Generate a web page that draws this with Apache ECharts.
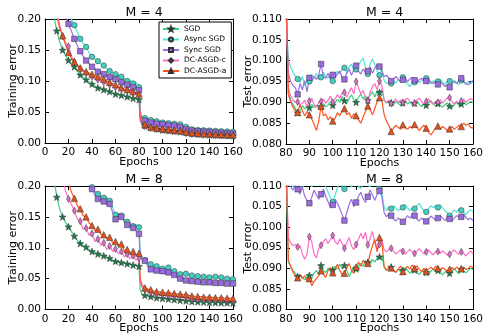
<!DOCTYPE html>
<html>
<head>
<meta charset="utf-8">
<script src="https://cdn.jsdelivr.net/npm/echarts@6/dist/echarts.min.js"></script>
<style>
  html, body { margin: 0; padding: 0; background: #fff; }
  #chart { width: 486px; height: 335px; }
</style>
</head>
<body>
<div id="chart"></div>
<script>
const names = ['SGD', 'Async SGD', 'Sync SGD', 'DC-ASGD-c', 'DC-ASGD-a']
const titles = ['M = 4', 'M = 4', 'M = 8', 'M = 8']

const trainEpochs = [
  2.5, 5, 7.5, 10, 12.5, 15, 17.5, 20, 22.5, 25,
  27.5, 30, 32.5, 35, 37.5, 40, 42.5, 45, 47.5, 50,
  52.5, 55, 57.5, 60, 62.5, 65, 67.5, 70, 72.5, 75,
  77.5, 80, 81, 82.5, 85, 87.5, 90, 92.5, 95, 97.5,
  100, 102.5, 105, 107.5, 110, 112.5, 115, 117.5, 120, 122.5,
  125, 127.5, 130, 132.5, 135, 137.5, 140, 142.5, 145, 147.5,
  150, 152.5, 155, 157.5, 160
]
const testEpochs = [
  80, 81, 82, 83, 84, 85, 86, 87, 88, 89,
  90, 91, 92, 93, 94, 95, 96, 97, 98, 99,
  100, 101, 102, 103, 104, 105, 106, 107, 108, 109,
  110, 111, 112, 113, 114, 115, 116, 117, 118, 119,
  120, 121, 122, 123, 124, 125, 126, 127, 128, 129,
  130, 131, 132, 133, 134, 135, 136, 137, 138, 139,
  140, 141, 142, 143, 144, 145, 146, 147, 148, 149,
  150, 151, 152, 153, 154, 155, 156, 157, 158, 159,
  160
]

// training error, M = 4
const trainSgd4 = [
  0.320, 0.250, 0.205, 0.181, 0.163, 0.150, 0.141, 0.1335, 0.128, 0.123,
  0.116, 0.110, 0.106, 0.102, 0.098, 0.095, 0.092, 0.089, 0.088, 0.086,
  0.085, 0.083, 0.081, 0.079, 0.078, 0.077, 0.076, 0.0745, 0.073, 0.072,
  0.0715, 0.070, 0.036, 0.030, 0.028, 0.026, 0.025, 0.024, 0.023, 0.022,
  0.021, 0.0205, 0.020, 0.0195, 0.019, 0.0185, 0.018, 0.0175, 0.017, 0.016,
  0.0155, 0.015, 0.0145, 0.014, 0.014, 0.0135, 0.013, 0.013, 0.0128, 0.0125,
  0.0123, 0.012, 0.012, 0.0118, 0.0117
]
const trainAsync4 = [
  0.450, 0.380, 0.330, 0.290, 0.260, 0.240, 0.225, 0.215, 0.200, 0.190,
  0.179, 0.168, 0.161, 0.155, 0.146, 0.139, 0.135, 0.132, 0.128, 0.125,
  0.120, 0.116, 0.114, 0.111, 0.109, 0.107, 0.104, 0.100, 0.101, 0.096,
  0.098, 0.090, 0.052, 0.043, 0.040, 0.038, 0.037, 0.036, 0.035, 0.034,
  0.033, 0.0325, 0.032, 0.031, 0.031, 0.030, 0.030, 0.029, 0.026, 0.023,
  0.022, 0.0215, 0.021, 0.021, 0.0205, 0.020, 0.020, 0.020, 0.0195, 0.019,
  0.019, 0.0188, 0.0185, 0.018, 0.018
]
const trainSync4 = [
  0.420, 0.350, 0.300, 0.265, 0.240, 0.220, 0.205, 0.192, 0.180, 0.168,
  0.157, 0.148, 0.140, 0.133, 0.128, 0.123, 0.119, 0.115, 0.113, 0.111,
  0.108, 0.106, 0.104, 0.103, 0.100, 0.098, 0.096, 0.094, 0.092, 0.090,
  0.088, 0.085, 0.048, 0.040, 0.036, 0.034, 0.033, 0.032, 0.031, 0.0305,
  0.030, 0.029, 0.0285, 0.028, 0.028, 0.027, 0.026, 0.025, 0.022, 0.0205,
  0.020, 0.0195, 0.019, 0.0185, 0.0185, 0.018, 0.018, 0.0175, 0.0172, 0.017,
  0.0165, 0.016, 0.016, 0.0155, 0.015
]
const trainDcc4 = [
  0.380, 0.300, 0.250, 0.215, 0.190, 0.172, 0.162, 0.156, 0.140, 0.131,
  0.125, 0.120, 0.116, 0.113, 0.110, 0.107, 0.104, 0.102, 0.100, 0.098,
  0.096, 0.094, 0.092, 0.090, 0.089, 0.088, 0.086, 0.085, 0.083, 0.081,
  0.079, 0.077, 0.038, 0.030, 0.027, 0.025, 0.024, 0.023, 0.0225, 0.022,
  0.022, 0.021, 0.0205, 0.020, 0.0195, 0.019, 0.019, 0.018, 0.016, 0.015,
  0.0145, 0.014, 0.014, 0.0135, 0.0133, 0.013, 0.0128, 0.0127, 0.0125, 0.0123,
  0.0122, 0.012, 0.012, 0.0118, 0.0118
]
const trainDca4 = [
  0.360, 0.290, 0.240, 0.205, 0.185, 0.173, 0.158, 0.146, 0.137, 0.131,
  0.126, 0.121, 0.117, 0.115, 0.113, 0.111, 0.109, 0.107, 0.105, 0.103,
  0.100, 0.098, 0.096, 0.094, 0.091, 0.089, 0.087, 0.086, 0.085, 0.083,
  0.081, 0.079, 0.040, 0.033, 0.030, 0.027, 0.026, 0.025, 0.024, 0.0235,
  0.023, 0.0225, 0.022, 0.0215, 0.021, 0.0205, 0.020, 0.0195, 0.018, 0.017,
  0.0165, 0.016, 0.016, 0.0155, 0.015, 0.015, 0.015, 0.0145, 0.0143, 0.014,
  0.014, 0.0137, 0.0135, 0.0133, 0.0132
]

// training error, M = 8
const trainSgd8 = [
  0.330, 0.260, 0.215, 0.182, 0.163, 0.150, 0.141, 0.134, 0.126, 0.119,
  0.112, 0.107, 0.104, 0.101, 0.097, 0.094, 0.092, 0.090, 0.088, 0.087,
  0.085, 0.083, 0.080, 0.078, 0.077, 0.076, 0.075, 0.074, 0.073, 0.072,
  0.071, 0.070, 0.032, 0.025, 0.023, 0.022, 0.021, 0.020, 0.019, 0.0185,
  0.018, 0.0175, 0.017, 0.0165, 0.016, 0.0155, 0.015, 0.0148, 0.014, 0.0135,
  0.013, 0.013, 0.0125, 0.012, 0.012, 0.0118, 0.0115, 0.0115, 0.0113, 0.011,
  0.011, 0.011, 0.0108, 0.0107, 0.0105
]
const trainAsync8 = [
  0.600, 0.520, 0.460, 0.410, 0.370, 0.340, 0.310, 0.290, 0.270, 0.255,
  0.240, 0.230, 0.220, 0.212, 0.203, 0.198, 0.192, 0.187, 0.184, 0.181,
  0.182, 0.176, 0.165, 0.1535, 0.150, 0.152, 0.146, 0.142, 0.139, 0.135,
  0.138, 0.133, 0.095, 0.082, 0.080, 0.076, 0.0733, 0.071, 0.070, 0.067,
  0.066, 0.065, 0.068, 0.064, 0.062, 0.058, 0.057, 0.059, 0.058, 0.056,
  0.055, 0.054, 0.054, 0.053, 0.053, 0.052, 0.052, 0.053, 0.053, 0.052,
  0.052, 0.051, 0.050, 0.050, 0.049
]
const trainSync8 = [
  0.580, 0.500, 0.440, 0.400, 0.360, 0.330, 0.300, 0.280, 0.260, 0.245,
  0.232, 0.222, 0.212, 0.205, 0.200, 0.195, 0.185, 0.179, 0.178, 0.175,
  0.170, 0.171, 0.158, 0.146, 0.155, 0.150, 0.142, 0.137, 0.140, 0.132,
  0.128, 0.1225, 0.090, 0.082, 0.079, 0.070, 0.065, 0.066, 0.063, 0.062,
  0.062, 0.058, 0.060, 0.058, 0.056, 0.052, 0.050, 0.051, 0.047, 0.046,
  0.046, 0.045, 0.045, 0.0445, 0.044, 0.044, 0.044, 0.0435, 0.043, 0.043,
  0.043, 0.0425, 0.042, 0.042, 0.042
]
const trainDcc8 = [
  0.500, 0.400, 0.330, 0.280, 0.240, 0.210, 0.192, 0.179, 0.170, 0.160,
  0.146, 0.143, 0.130, 0.132, 0.120, 0.123, 0.110, 0.114, 0.104, 0.108,
  0.097, 0.103, 0.094, 0.098, 0.090, 0.094, 0.085, 0.090, 0.082, 0.087,
  0.080, 0.083, 0.045, 0.036, 0.032, 0.030, 0.028, 0.026, 0.025, 0.0245,
  0.024, 0.023, 0.0225, 0.022, 0.022, 0.021, 0.021, 0.020, 0.020, 0.018,
  0.017, 0.0165, 0.016, 0.0158, 0.0155, 0.0152, 0.015, 0.015, 0.015, 0.0148,
  0.0148, 0.0145, 0.0143, 0.014, 0.014
]
const trainDca8 = [
  0.550, 0.450, 0.370, 0.310, 0.270, 0.235, 0.215, 0.205, 0.190, 0.180,
  0.168, 0.163, 0.152, 0.150, 0.140, 0.136, 0.128, 0.130, 0.122, 0.121,
  0.115, 0.117, 0.108, 0.110, 0.102, 0.106, 0.095, 0.097, 0.090, 0.094,
  0.088, 0.091, 0.050, 0.040, 0.035, 0.033, 0.032, 0.030, 0.029, 0.0285,
  0.028, 0.027, 0.027, 0.026, 0.026, 0.025, 0.025, 0.024, 0.024, 0.023,
  0.022, 0.0215, 0.021, 0.021, 0.020, 0.020, 0.020, 0.0195, 0.019, 0.019,
  0.019, 0.0185, 0.0182, 0.018, 0.018
]

// test error, M = 4
const testSgd4 = [
  0.1150, 0.0920, 0.0905, 0.0895, 0.0885, 0.0875, 0.0880, 0.0892, 0.0884, 0.0890,
  0.0887, 0.0895, 0.0888, 0.0893, 0.0885, 0.0890, 0.0897, 0.0889, 0.0894, 0.0902,
  0.0893, 0.0898, 0.0908, 0.0900, 0.0914, 0.0904, 0.0897, 0.0910, 0.0918, 0.0906,
  0.0900, 0.0912, 0.0920, 0.0908, 0.0915, 0.0905, 0.0918, 0.0925, 0.0913, 0.0928,
  0.0924, 0.0930, 0.0905, 0.0898, 0.0903, 0.0899, 0.0894, 0.0902, 0.0897, 0.0893,
  0.0899, 0.0905, 0.0896, 0.0901, 0.0894, 0.0898, 0.0903, 0.0895, 0.0890, 0.0897,
  0.0893, 0.0899, 0.0904, 0.0896, 0.0891, 0.0897, 0.0893, 0.0888, 0.0895, 0.0899,
  0.0891, 0.0887, 0.0894, 0.0900, 0.0892, 0.0896, 0.0901, 0.0894, 0.0898, 0.0902,
  0.0899
]
const testAsync4 = [
  0.1120, 0.1000, 0.0985, 0.0972, 0.0963, 0.0956, 0.0948, 0.0962, 0.0940, 0.0955,
  0.0950, 0.0966, 0.0958, 0.0970, 0.0955, 0.0960, 0.0972, 0.0962, 0.0958, 0.0968,
  0.0951, 0.0964, 0.0975, 0.0968, 0.0980, 0.0983, 0.0972, 0.0985, 0.0992, 0.0978,
  0.0979, 0.0990, 0.0998, 0.1006, 0.0985, 0.0968, 0.0992, 0.1004, 0.0990, 0.0975,
  0.0965, 0.0980, 0.0952, 0.0945, 0.0950, 0.0945, 0.0952, 0.0946, 0.0955, 0.0950,
  0.0960, 0.0952, 0.0945, 0.0938, 0.0945, 0.0948, 0.0955, 0.0947, 0.0952, 0.0958,
  0.0958, 0.0950, 0.0945, 0.0952, 0.0946, 0.0950, 0.0956, 0.0948, 0.0943, 0.0950,
  0.0951, 0.0946, 0.0953, 0.0947, 0.0942, 0.0953, 0.0948, 0.0943, 0.0950, 0.0945,
  0.0948
]
const testSync4 = [
  0.1130, 0.0970, 0.0950, 0.0940, 0.0935, 0.0919, 0.0945, 0.0930, 0.0952, 0.0925,
  0.0959, 0.0950, 0.0962, 0.0955, 0.0965, 0.0992, 0.0962, 0.0958, 0.0970, 0.0955,
  0.0966, 0.0958, 0.0968, 0.0975, 0.0960, 0.0955, 0.0970, 0.0980, 0.0965, 0.0978,
  0.0988, 0.0975, 0.0968, 0.0980, 0.0972, 0.0975, 0.0985, 0.0970, 0.0982, 0.0990,
  0.0986, 0.0975, 0.0962, 0.0965, 0.0958, 0.0951, 0.0955, 0.0962, 0.0955, 0.0950,
  0.0954, 0.0958, 0.0950, 0.0956, 0.0960, 0.0953, 0.0948, 0.0954, 0.0958, 0.0950,
  0.0951, 0.0956, 0.0948, 0.0945, 0.0950, 0.0943, 0.0948, 0.0944, 0.0938, 0.0942,
  0.0936, 0.0945, 0.0950, 0.0945, 0.0952, 0.0958, 0.0950, 0.0945, 0.0942, 0.0948,
  0.0952
]
const testDcc4 = [
  0.1140, 0.0935, 0.0915, 0.0905, 0.0900, 0.0901, 0.0895, 0.0898, 0.0905, 0.0890,
  0.0903, 0.0910, 0.0895, 0.0888, 0.0900, 0.0902, 0.0908, 0.0898, 0.0905, 0.0915,
  0.0900, 0.0908, 0.0918, 0.0910, 0.0922, 0.0924, 0.0912, 0.0925, 0.0935, 0.0920,
  0.0950, 0.0935, 0.0920, 0.0928, 0.0912, 0.0903, 0.0925, 0.0938, 0.0945, 0.0930,
  0.0951, 0.0940, 0.0905, 0.0900, 0.0905, 0.0897, 0.0902, 0.0908, 0.0900, 0.0905,
  0.0899, 0.0906, 0.0910, 0.0903, 0.0898, 0.0898, 0.0905, 0.0910, 0.0902, 0.0896,
  0.0902, 0.0908, 0.0900, 0.0895, 0.0903, 0.0900, 0.0906, 0.0898, 0.0904, 0.0910,
  0.0911, 0.0902, 0.0896, 0.0903, 0.0898, 0.0903, 0.0908, 0.0900, 0.0905, 0.0909,
  0.0905
]
const testDca4 = [
  0.1200, 0.0920, 0.0900, 0.0888, 0.0880, 0.0876, 0.0895, 0.0880, 0.0868, 0.0878,
  0.0870, 0.0860, 0.0848, 0.0832, 0.0855, 0.0891, 0.0868, 0.0872, 0.0858, 0.0865,
  0.0855, 0.0862, 0.0875, 0.0868, 0.0878, 0.0885, 0.0870, 0.0875, 0.0862, 0.0872,
  0.0868, 0.0858, 0.0850, 0.0865, 0.0878, 0.0891, 0.0882, 0.0870, 0.0885, 0.0902,
  0.0911, 0.0905, 0.0870, 0.0855, 0.0845, 0.0830, 0.0838, 0.0845, 0.0840, 0.0835,
  0.0846, 0.0840, 0.0835, 0.0842, 0.0838, 0.0847, 0.0840, 0.0832, 0.0840, 0.0845,
  0.0838, 0.0828, 0.0822, 0.0830, 0.0838, 0.0843, 0.0835, 0.0842, 0.0838, 0.0832,
  0.0836, 0.0842, 0.0835, 0.0840, 0.0845, 0.0842, 0.0850, 0.0845, 0.0848, 0.0840,
  0.0838
]

// test error, M = 8
const testSgd8 = [
  0.1150, 0.0915, 0.0905, 0.0895, 0.0888, 0.0880, 0.0885, 0.0878, 0.0872, 0.0880,
  0.0883, 0.0875, 0.0888, 0.0895, 0.0885, 0.0907, 0.0895, 0.0890, 0.0900, 0.0892,
  0.0896, 0.0905, 0.0898, 0.0910, 0.0900, 0.0907, 0.0895, 0.0880, 0.0892, 0.0905,
  0.0899, 0.0905, 0.0912, 0.0905, 0.0918, 0.0915, 0.0910, 0.0922, 0.0915, 0.0925,
  0.0928, 0.0930, 0.0902, 0.0895, 0.0900, 0.0903, 0.0895, 0.0890, 0.0898, 0.0893,
  0.0895, 0.0902, 0.0895, 0.0888, 0.0893, 0.0896, 0.0890, 0.0885, 0.0892, 0.0897,
  0.0890, 0.0886, 0.0893, 0.0898, 0.0892, 0.0895, 0.0890, 0.0884, 0.0891, 0.0896,
  0.0888, 0.0893, 0.0899, 0.0892, 0.0887, 0.0898, 0.0893, 0.0889, 0.0895, 0.0900,
  0.0897
]
const testAsync8 = [
  0.1180, 0.1120, 0.1105, 0.1098, 0.1108, 0.1112, 0.1100, 0.1095, 0.1105, 0.1115,
  0.1110, 0.1098, 0.1106, 0.1112, 0.1100, 0.1108, 0.1112, 0.1098, 0.1085, 0.1072,
  0.1061, 0.1078, 0.1095, 0.1108, 0.1100, 0.1093, 0.1105, 0.1112, 0.1098, 0.1106,
  0.1112, 0.1100, 0.1094, 0.1108, 0.1115, 0.1102, 0.1098, 0.1108, 0.1112, 0.1100,
  0.1093, 0.1085, 0.1048, 0.1040, 0.1050, 0.1045, 0.1052, 0.1046, 0.1040, 0.1045,
  0.1048, 0.1055, 0.1047, 0.1040, 0.1046, 0.1045, 0.1052, 0.1058, 0.1048, 0.1040,
  0.1037, 0.1045, 0.1052, 0.1047, 0.1053, 0.1048, 0.1055, 0.1047, 0.1040, 0.1035,
  0.1028, 0.1035, 0.1042, 0.1036, 0.1044, 0.1041, 0.1036, 0.1030, 0.1038, 0.1042,
  0.1038
]
const testSync8 = [
  0.1180, 0.1105, 0.1098, 0.1090, 0.1102, 0.1092, 0.1080, 0.1098, 0.1075, 0.1065,
  0.1058, 0.1072, 0.1090, 0.1078, 0.1068, 0.1080, 0.1092, 0.1075, 0.1062, 0.1048,
  0.1054, 0.1068, 0.1058, 0.1045, 0.1030, 0.1016, 0.1035, 0.1055, 0.1068, 0.1050,
  0.1060, 0.1075, 0.1085, 0.1070, 0.1060, 0.1074, 0.1090, 0.1078, 0.1065, 0.1080,
  0.1088, 0.1075, 0.1035, 0.1025, 0.1032, 0.1028, 0.1020, 0.1015, 0.1022, 0.1018,
  0.1013, 0.1020, 0.1028, 0.1022, 0.1030, 0.1028, 0.1020, 0.1015, 0.1022, 0.1018,
  0.1014, 0.1020, 0.1027, 0.1022, 0.1017, 0.1022, 0.1028, 0.1022, 0.1016, 0.1023,
  0.1020, 0.1015, 0.1022, 0.1028, 0.1024, 0.1025, 0.1030, 0.1024, 0.1018, 0.1022,
  0.1015
]
const testDcc8 = [
  0.1150, 0.0975, 0.0962, 0.0955, 0.0958, 0.0952, 0.0955, 0.0935, 0.0922, 0.0935,
  0.0977, 0.0965, 0.0935, 0.0925, 0.0948, 0.0956, 0.0965, 0.0972, 0.0960, 0.0970,
  0.0980, 0.0965, 0.0958, 0.0972, 0.0960, 0.0949, 0.0962, 0.0975, 0.0955, 0.0945,
  0.0958, 0.0970, 0.0985, 0.0972, 0.0988, 0.0957, 0.0972, 0.0990, 0.0962, 0.0945,
  0.0958, 0.0970, 0.0945, 0.0940, 0.0946, 0.0949, 0.0942, 0.0935, 0.0940, 0.0945,
  0.0941, 0.0935, 0.0940, 0.0946, 0.0940, 0.0936, 0.0942, 0.0948, 0.0941, 0.0935,
  0.0940, 0.0945, 0.0938, 0.0933, 0.0940, 0.0941, 0.0936, 0.0943, 0.0938, 0.0932,
  0.0934, 0.0940, 0.0945, 0.0938, 0.0934, 0.0940, 0.0936, 0.0930, 0.0937, 0.0942,
  0.0935
]
const testDca8 = [
  0.1200, 0.0920, 0.0905, 0.0890, 0.0882, 0.0877, 0.0885, 0.0875, 0.0882, 0.0870,
  0.0875, 0.0858, 0.0868, 0.0875, 0.0882, 0.0894, 0.0885, 0.0878, 0.0895, 0.0902,
  0.0889, 0.0898, 0.0910, 0.0895, 0.0885, 0.0888, 0.0900, 0.0912, 0.0895, 0.0888,
  0.0903, 0.0915, 0.0905, 0.0920, 0.0910, 0.0912, 0.0935, 0.0955, 0.0970, 0.0940,
  0.0975, 0.0965, 0.0905, 0.0895, 0.0902, 0.0901, 0.0895, 0.0890, 0.0898, 0.0905,
  0.0892, 0.0898, 0.0905, 0.0898, 0.0908, 0.0900, 0.0906, 0.0898, 0.0892, 0.0900,
  0.0893, 0.0898, 0.0903, 0.0897, 0.0905, 0.0900, 0.0896, 0.0902, 0.0897, 0.0893,
  0.0898, 0.0902, 0.0897, 0.0903, 0.0898, 0.0899, 0.0903, 0.0897, 0.0900, 0.0905,
  0.0902
]

const starPath = 'path://M0,-10 L2.35,-3.24 9.51,-3.09 3.8,1.24 5.88,8.09 0,4 -5.88,8.09 -3.8,1.24 -9.51,-3.09 -2.35,-3.24 Z'
const styles = [
  { line: '#36d27f', fill: '#1e7a4c', symbol: starPath, size: 7 },
  { line: '#4ce6d6', fill: '#44cfc2', symbol: 'circle', size: 5.5 },
  { line: '#9b6fe3', fill: '#9a6ae0', symbol: 'rect', size: 5.5 },
  { line: '#ff6ec4', fill: '#e36ccb', symbol: 'diamond', size: [4, 7] },
  { line: '#ff5420', fill: '#e0521e', symbol: 'triangle', size: 6.5 }
]

const panels = [
  { xs: trainEpochs, ys: [trainSgd4, trainAsync4, trainSync4, trainDcc4, trainDca4], x: [0, 160, 20], y: [0, 0.2, 0.05], dec: 2, yname: 'Training error', gap: 26, last: true },
  { xs: testEpochs, ys: [testSgd4, testAsync4, testSync4, testDcc4, testDca4], x: [80, 160, 10], y: [0.08, 0.11, 0.005], dec: 3, yname: 'Test error', gap: 32, last: false },
  { xs: trainEpochs, ys: [trainSgd8, trainAsync8, trainSync8, trainDcc8, trainDca8], x: [0, 160, 20], y: [0, 0.2, 0.05], dec: 2, yname: 'Training error', gap: 26, last: true },
  { xs: testEpochs, ys: [testSgd8, testAsync8, testSync8, testDcc8, testDca8], x: [80, 160, 10], y: [0.08, 0.11, 0.005], dec: 3, yname: 'Test error', gap: 32, last: false }
]

const grids = [
  { left: 45, top: 19, width: 188, height: 124 },
  { left: 286, top: 19, width: 187, height: 125 },
  { left: 45, top: 186, width: 188, height: 125 },
  { left: 286, top: 186, width: 187, height: 125 }
]

const font = 'DejaVu Sans'
const xAxes = [], yAxes = [], series = [], titleList = []

panels.forEach((p, g) => {
  const tick = { show: true, inside: true, length: 4, lineStyle: { color: '#000' } }
  const line = { show: true, onZero: false, lineStyle: { color: '#000', width: 1 } }
  xAxes.push({
    gridIndex: g, type: 'value', position: 'bottom', min: p.x[0], max: p.x[1], interval: p.x[2],
    name: 'Epochs', nameLocation: 'middle', nameGap: 13.5, nameMoveOverlap: false,
    nameTextStyle: { fontFamily: font, fontSize: 11, color: '#000' },
    axisLine: line, axisTick: tick, splitLine: { show: false },
    axisLabel: { fontFamily: font, fontSize: 10.5, color: '#000', margin: 4 }
  })
  xAxes.push({
    gridIndex: g, type: 'value', position: 'top', min: p.x[0], max: p.x[1], interval: p.x[2],
    axisLine: line, axisTick: tick, splitLine: { show: false }, axisLabel: { show: false }
  })
  yAxes.push({
    gridIndex: g, type: 'value', position: 'left', min: p.y[0], max: p.y[1], interval: p.y[2],
    name: p.yname, nameLocation: 'middle', nameGap: p.gap, nameRotate: 90, nameMoveOverlap: false,
    nameTextStyle: { fontFamily: font, fontSize: 11, color: '#000' },
    axisLine: line, axisTick: tick, splitLine: { show: false },
    axisLabel: { fontFamily: font, fontSize: 10.5, color: '#000', margin: 4, formatter: v => v.toFixed(p.dec) }
  })
  yAxes.push({
    gridIndex: g, type: 'value', position: 'right', min: p.y[0], max: p.y[1], interval: p.y[2],
    axisLine: line, axisTick: tick, splitLine: { show: false }, axisLabel: { show: false }
  })

  const gr = grids[g]
  titleList.push({
    text: titles[g], left: gr.left + gr.width / 2, top: gr.top - 18, textAlign: 'center',
    textStyle: { fontFamily: font, fontSize: 12.5, fontWeight: 'normal', color: '#000' }
  })

  p.ys.forEach((ys, k) => {
    const st = styles[k]
    series.push({
      name: names[k], type: 'line', xAxisIndex: 2 * g, yAxisIndex: 2 * g,
      symbol: st.symbol, symbolSize: st.size, clip: true,
      lineStyle: { color: st.line, width: 1.2 },
      itemStyle: { color: st.fill, borderColor: '#333', borderWidth: 0.5 },
      data: p.xs.map((x, i) => {
        const mark = x % 5 === 0 && (p.last || x < 160)
        return mark ? { value: [x, ys[i]] } : { value: [x, ys[i]], symbol: 'none' }
      })
    })
  })
})

const chart = echarts.init(document.getElementById('chart'))
chart.setOption({
  animation: false,
  backgroundColor: '#fff',
  title: titleList,
  grid: grids,
  xAxis: xAxes,
  yAxis: yAxes,
  legend: {
    data: names, orient: 'vertical', left: 159, top: 22,
    itemWidth: 16, itemHeight: 5, itemGap: 2.5,
    padding: [3, 5, 3, 3],
    borderColor: '#000', borderWidth: 1, backgroundColor: '#fff',
    textStyle: { fontFamily: font, fontSize: 7.5, color: '#000' }
  },
  series: series
})
</script>
</body>
</html>
